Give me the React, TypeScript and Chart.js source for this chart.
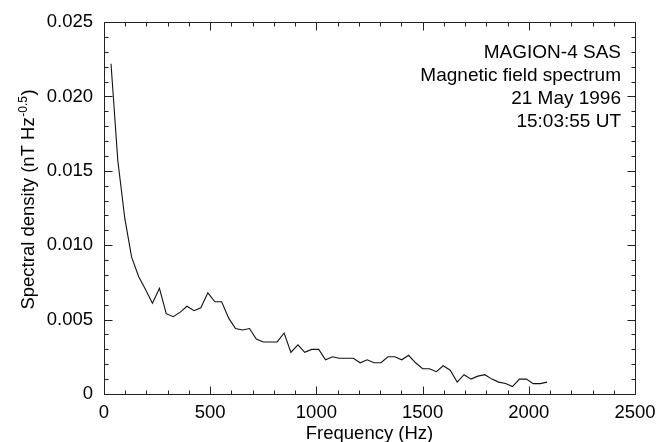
import { useEffect, useRef } from 'react';
import { Chart, registerables } from 'chart.js';

Chart.register(...registerables);

// Frequency bins (Hz)
const FREQ = [
  33, 65, 98, 130, 163, 196, 228, 261, 293, 326, 359, 391, 424, 456, 489, 522,
  554, 587, 619, 652, 685, 717, 750, 782, 815, 848, 880, 913, 945, 978, 1011, 1043,
  1076, 1108, 1141, 1174, 1206, 1239, 1271, 1304, 1337, 1369, 1402, 1434, 1467, 1500, 1532, 1565,
  1597, 1630, 1663, 1695, 1728, 1760, 1793, 1826, 1858, 1891, 1923, 1956, 1989, 2021, 2054, 2086,
];

// Spectral density (nT Hz^-0.5)
const DENSITY = [
  0.0222, 0.0157, 0.0118, 0.0092, 0.0079, 0.0070, 0.0061, 0.0071, 0.0054, 0.0052, 0.0055, 0.0059, 0.0056, 0.0058, 0.0068, 0.0062,
  0.0062, 0.0051, 0.0044, 0.0043, 0.0044, 0.0037, 0.0035, 0.0035, 0.0035, 0.0041, 0.0028, 0.0033, 0.0028, 0.0030, 0.0030, 0.0023,
  0.0025, 0.0024, 0.0024, 0.0024, 0.0021, 0.0023, 0.0021, 0.0021, 0.0025, 0.0025, 0.0023, 0.0026, 0.0021, 0.0017, 0.0017, 0.0015,
  0.0019, 0.0016, 0.0008, 0.0013, 0.0010, 0.0012, 0.0013, 0.0010, 0.0008, 0.0007, 0.0005, 0.0010, 0.0010, 0.0007, 0.0007, 0.0008,
];

const X_TICKS = [0, 500, 1000, 1500, 2000, 2500];
const X_TICK_LABELS = ['0', '500', '1000', '1500', '2000', '2500'];
const Y_TICKS = [0, 0.005, 0.01, 0.015, 0.02, 0.025];
const Y_TICK_LABELS = ['0', '0.005', '0.010', '0.015', '0.020', '0.025'];
const X_MINOR = 100;
const Y_MINOR = 0.001;

const X_TITLE = 'Frequency (Hz)';
const Y_TITLE_MAIN = 'Spectral density (nT Hz';
const Y_TITLE_SUP = '-0.5';
const Y_TITLE_END = ')';
const ANNOTATION = ['MAGION-4 SAS', 'Magnetic field spectrum', '21 May 1996', '15:03:55 UT'];

const FONT = '"Liberation Sans", Arial, Helvetica, sans-serif';
const FS = 18.5;

export default function App() {
  const ref = useRef<HTMLCanvasElement>(null);

  useEffect(() => {
    const canvas = ref.current;
    if (!canvas) return;

    const framePlugin = {
      id: 'frame',
      afterDraw(chart: any) {
        const { ctx, chartArea: a, scales } = chart;
        const xs = scales.x;
        const ys = scales.y;
        ctx.save();
        ctx.strokeStyle = '#222';
        ctx.lineWidth = 1;
        const L = Math.round(a.left) + 0.5;
        const R = Math.round(a.right) + 0.5;
        const T = Math.round(a.top) + 0.5;
        const B = Math.round(a.bottom) + 0.5;
        ctx.strokeRect(L, T, R - L, B - T);
        ctx.beginPath();
        const nx = Math.round((xs.max - xs.min) / X_MINOR);
        for (let i = 0; i <= nx; i++) {
          const px = Math.round(xs.getPixelForValue(xs.min + i * X_MINOR)) + 0.5;
          const len = i % 5 === 0 ? 8 : 4;
          ctx.moveTo(px, B); ctx.lineTo(px, B - len);
          ctx.moveTo(px, T); ctx.lineTo(px, T + len);
        }
        const ny = Math.round((ys.max - ys.min) / Y_MINOR);
        for (let i = 0; i <= ny; i++) {
          const py = Math.round(ys.getPixelForValue(ys.min + i * Y_MINOR)) + 0.5;
          const len = i % 5 === 0 ? 8 : 4;
          ctx.moveTo(L, py); ctx.lineTo(L + len, py);
          ctx.moveTo(R, py); ctx.lineTo(R - len, py);
        }
        ctx.stroke();

        // texts
        ctx.fillStyle = '#000';
        ctx.font = `${FS}px ${FONT}`;
        ctx.textBaseline = 'alphabetic';
        // x title
        ctx.textAlign = 'center';
        ctx.fillText(X_TITLE, (a.left + a.right) / 2, 439);
        // y title with superscript
        const supFont = `${FS * 0.65}px ${FONT}`;
        const mainFont = `${FS}px ${FONT}`;
        ctx.font = mainFont;
        const w1 = ctx.measureText(Y_TITLE_MAIN).width;
        const w3 = ctx.measureText(Y_TITLE_END).width;
        ctx.font = supFont;
        const w2 = ctx.measureText(Y_TITLE_SUP).width;
        const total = w1 + w2 + w3;
        ctx.save();
        ctx.translate(34, 200);
        ctx.rotate(-Math.PI / 2);
        ctx.textAlign = 'left';
        let x0 = -total / 2;
        ctx.font = mainFont;
        ctx.fillText(Y_TITLE_MAIN, x0, 0);
        x0 += w1;
        ctx.font = supFont;
        ctx.fillText(Y_TITLE_SUP, x0 + 0.5, -7.5);
        x0 += w2 + 1;
        ctx.font = mainFont;
        ctx.fillText(Y_TITLE_END, x0, 0);
        ctx.restore();
        // annotation
        ctx.font = `19px ${FONT}`;
        ctx.textAlign = 'right';
        ANNOTATION.forEach((s, i) => {
          ctx.fillText(s, 621, 58 + i * 23);
        });
        ctx.restore();
      },
    };

    const chart = new Chart(canvas, {
      type: 'line',
      data: {
        datasets: [
          {
            data: FREQ.map((f, i) => ({ x: f, y: DENSITY[i] })),
            borderColor: '#111',
            borderWidth: 1.1,
            pointRadius: 0,
            tension: 0,
            fill: false,
          },
        ],
      },
      options: {
        animation: false,
        responsive: false,
        devicePixelRatio: 1,
        layout: { padding: { top: 20, right: 32, left: 0, bottom: 0 } },
        plugins: { legend: { display: false }, tooltip: { enabled: false } },
        scales: {
          x: {
            type: 'linear',
            min: 0,
            max: 2500,
            afterBuildTicks: (s: any) => { s.ticks = X_TICKS.map((v) => ({ value: v })); },
            afterFit: (s: any) => { s.height = 48; },
            grid: { display: false, drawTicks: false },
            border: { display: false },
            ticks: {
              callback: (_v: any, i: number) => X_TICK_LABELS[i],
              font: { family: FONT, size: FS },
              color: '#000',
              padding: 8,
              maxRotation: 0,
            },
          },
          y: {
            type: 'linear',
            min: 0,
            max: 0.025,
            afterBuildTicks: (s: any) => { s.ticks = Y_TICKS.map((v) => ({ value: v })); },
            afterFit: (s: any) => { s.width = 104; },
            grid: { display: false, drawTicks: false },
            border: { display: false },
            ticks: {
              callback: (_v: any, i: number) => Y_TICK_LABELS[i],
              font: { family: FONT, size: FS },
              color: '#000',
              padding: 11,
            },
          },
        },
      },
      plugins: [framePlugin],
    });
    return () => chart.destroy();
  }, []);

  return (
    <div style={{ position: 'absolute', left: 0, top: 0, width: 667, height: 442, background: '#fff' }}>
      <canvas ref={ref} width={667} height={442} style={{ width: 667, height: 442 }} />
    </div>
  );
}
